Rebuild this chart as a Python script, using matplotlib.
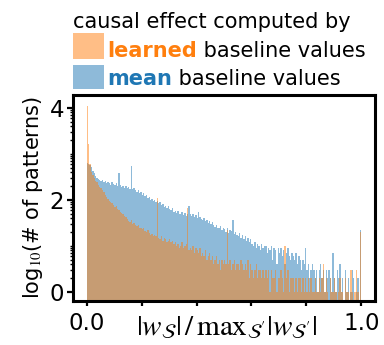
import numpy as np
import matplotlib
matplotlib.use("Agg")
import matplotlib.pyplot as plt
from matplotlib.patches import Rectangle

# histogram counts, 200 bins over [0, 1]
mean_counts = [
    630, 600, 560, 520, 420, 380, 330, 300, 290, 270,
    260, 275, 240, 255, 230, 250, 235, 215, 240, 225,
    215, 230, 200, 380, 210, 195, 205, 185, 200, 180,
    190, 175, 550, 170, 180, 160, 150, 165, 140, 145,
    130, 138, 120, 128, 110, 118, 100, 105, 96, 100,
    90, 95, 84, 88, 78, 82, 70, 75, 68, 72,
    64, 60, 66, 55, 58, 52, 56, 48, 50, 54,
    47, 52, 45, 50, 74, 48, 44, 50, 42, 46,
    40, 55, 42, 38, 36, 40, 34, 37, 32, 35,
    30, 33, 28, 26, 29, 25, 24, 27, 22, 25,
    23, 20, 24, 19, 22, 21, 36, 18, 20, 17,
    16, 19, 15, 17, 14, 16, 13, 15, 12, 14,
    11, 10, 12, 9, 11, 10, 8, 11, 9, 10,
    10, 7, 9, 8, 10, 5, 9, 8, 4, 9,
    7, 9, 6, 8, 4, 7, 9, 6, 5, 7,
    6, 5, 7, 4, 6, 5, 3, 5, 4, 9,
    3, 4, 2, 3, 4, 3, 2, 3, 1, 3,
    4, 2, 3, 1, 3, 2, 3, 2, 1, 7,
    2, 1, 3, 2, 4, 1, 2, 0, 3, 1,
    2, 0, 1, 3, 2, 0, 1, 2, 0, 22,
]
learned_counts = [
    11000, 1600, 600, 400, 340, 300, 260, 240, 215, 195,
    180, 165, 145, 128, 118, 105, 95, 92, 84, 78,
    70, 72, 64, 60, 55, 52, 48, 44, 42, 38,
    35, 33, 36, 30, 31, 28, 27, 29, 25, 24,
    23, 25, 21, 20, 22, 19, 17, 18, 16, 17,
    16, 110, 15, 14, 16, 13, 15, 14, 12, 13,
    14, 12, 13, 11, 12, 10, 11, 9, 10, 12,
    9, 10, 11, 66, 8, 9, 8, 10, 7, 9,
    8, 7, 9, 6, 7, 6, 8, 5, 6, 7,
    5, 6, 4, 5, 6, 4, 5, 3, 5, 4,
    5, 4, 22, 4, 5, 3, 4, 5, 3, 4,
    4, 3, 5, 4, 3, 4, 3, 5, 2, 4,
    3, 2, 3, 4, 2, 3, 3, 2, 3, 2,
    3, 2, 3, 1, 3, 2, 2, 3, 1, 2,
    2, 3, 2, 1, 10, 2, 3, 1, 2, 2,
    2, 1, 2, 1, 2, 2, 1, 2, 1, 2,
    1, 2, 1, 2, 1, 1, 2, 1, 1, 2,
    1, 2, 4, 1, 2, 1, 0, 2, 1, 1,
    2, 1, 0, 1, 2, 1, 1, 0, 2, 1,
    1, 0, 3, 1, 0, 1, 3, 1, 0, 20,
]
bin_edges = np.linspace(0, 1, 201)

orange = "#ff7f0e"
blue = "#1f77b4"
ybot = -0.2

plt.rcParams["font.family"] = ["DejaVu Sans"]
plt.rcParams["mathtext.fontset"] = "stix"

fig = plt.figure(figsize=(3.84, 3.45), dpi=100)
ax = fig.add_axes([73/384, 1 - 301/345, 302/384, 206/345])


def draw(counts, color):
    c = np.array(counts, dtype=float)
    ok = c > 0
    h = np.log10(c[ok])
    ax.bar(bin_edges[:-1][ok], h - ybot, width=bin_edges[1] - bin_edges[0],
           bottom=ybot, align="edge", color=color, alpha=0.5, linewidth=0)


draw(mean_counts, blue)      # mean baseline values
draw(learned_counts, orange) # learned baseline values

ax.set_xlim(-0.05, 1.05)
ax.set_ylim(ybot, 4.28)

# ticks
ax.set_xticks([0, 0.2, 0.4, 0.6, 0.8, 1.0])
ax.set_xticklabels(["0.0", "", "", "", "", "1.0"], fontsize=16.5)
ax.set_yticks([0, 2, 4])
ax.set_yticklabels(["0", "2", "4"], fontsize=16.5)
minor = [i + np.log10(k) for i in range(4) for k in range(1, 10)]
ax.set_yticks(minor, minor=True)
ax.tick_params(axis="x", which="major", length=3.8, width=1.6, pad=4)
ax.tick_params(axis="y", which="major", length=4.5, width=1.6, pad=2)
ax.tick_params(axis="y", which="minor", length=2.5, width=1)
for s in ax.spines.values():
    s.set_linewidth(2.2)

ax.set_ylabel(r"log$_{10}$(# of patterns)", fontsize=15, labelpad=3)
fig.text(226.5/384, 1 - 327/345,
         r"$|w_\mathcal{S}|\,/\,\mathrm{max}_{\mathcal{S}^\prime}|w_{\mathcal{S}^\prime}|$",
         fontsize=21, ha="center", va="center")

# legend drawn by hand so the key words can be coloured
fs = 15
fig.text(73/384, 1 - 28/345, "causal effect computed by", fontsize=fs, va="baseline")
fig.add_artist(Rectangle((73/384, 1 - 59/345), 31/384, 26/345, transform=fig.transFigure,
                         color=orange, alpha=0.5, linewidth=0))
fig.add_artist(Rectangle((73/384, 1 - 89/345), 31/384, 24/345, transform=fig.transFigure,
                         color=blue, alpha=0.5, linewidth=0))
rows = [("learned", orange, 1 - 57/345), ("mean", blue, 1 - 85/345)]
fig.canvas.draw()
r = fig.canvas.get_renderer()
for word, col, y in rows:
    t = fig.text(107/384, y, word, fontsize=fs, color=col, fontweight="bold", va="baseline")
    bb = t.get_window_extent(r)
    fig.text(bb.x1 / fig.bbox.width, y, " baseline values", fontsize=fs, va="baseline")

fig.savefig("out.png", dpi=100)
